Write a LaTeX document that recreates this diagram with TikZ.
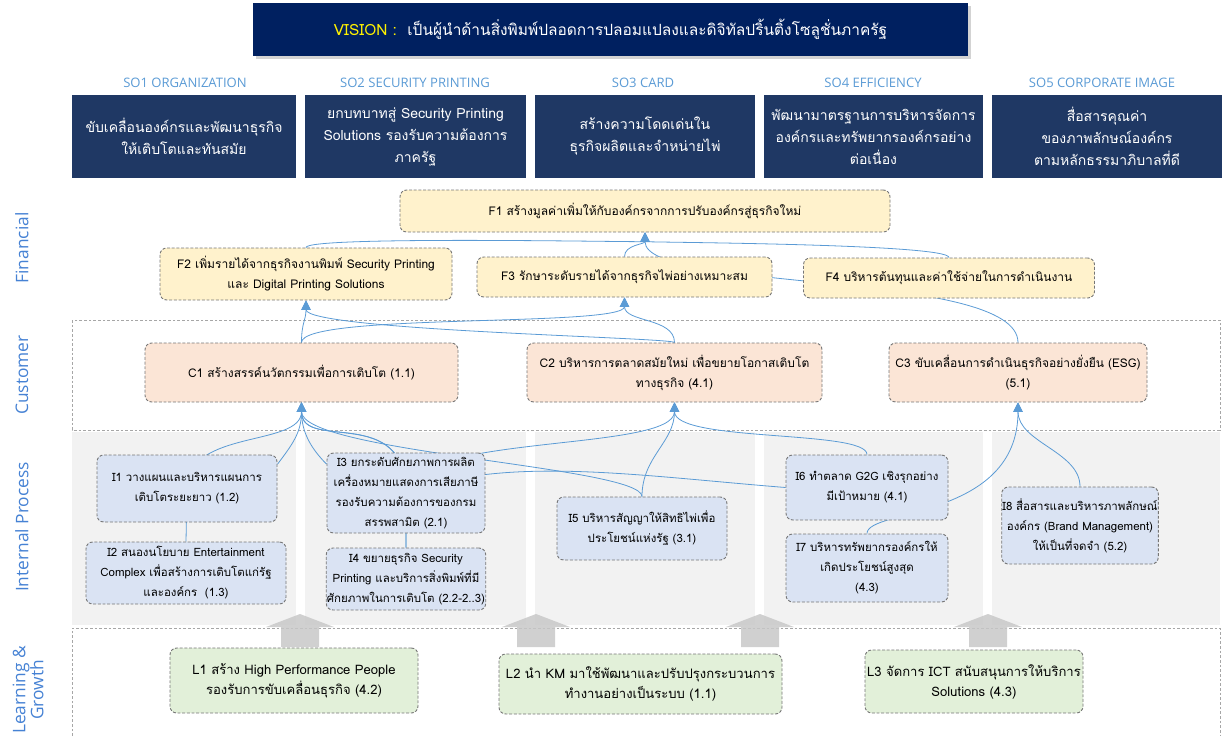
\documentclass[tikz,border=0pt]{standalone}
\usepackage{fontspec}
\setmainfont{Loma}[Script=Thai]
\newfontfamily\labelfont{Open Sans}
\usetikzlibrary{arrows.meta,shadows}
\definecolor{visionblue}{RGB}{0,32,96}
\definecolor{soblue}{RGB}{31,56,100}
\definecolor{solabel}{RGB}{91,155,213}
\definecolor{sidelabel}{RGB}{70,130,212}
\definecolor{linkblue}{RGB}{91,155,213}
\definecolor{finfill}{RGB}{255,242,204}
\definecolor{cusfill}{RGB}{251,229,214}
\definecolor{intfill}{RGB}{218,227,243}
\definecolor{lgfill}{RGB}{226,240,217}
\definecolor{boxline}{RGB}{118,118,118}
\definecolor{colgray}{RGB}{242,242,242}
\definecolor{blockgray}{RGB}{200,200,200}
\pgfdeclarelayer{back}
\pgfdeclarelayer{wires}
\pgfsetlayers{back,wires,main}

\begin{document}
\begin{tikzpicture}[x=0.75pt, y=0.75pt,
    wh/.style 2 args={minimum width=#1*0.75pt, minimum height=#2*0.75pt},
    obj/.style={draw=boxline, dash pattern=on 2.2pt off 1.3pt, line width=0.7pt,
                rounded corners=5pt, align=center, inner sep=0.5pt,
                font=\fontsize{9}{15}\selectfont},
    fin/.style={obj, fill=finfill},
    cus/.style={obj, fill=cusfill},
    int/.style={obj, fill=intfill, font=\fontsize{8.6}{15}\selectfont},
    lg/.style={obj, fill=lgfill, font=\fontsize{9.8}{15}\selectfont},
    sobox/.style={fill=soblue, text=white, align=center, inner sep=1pt,
                  font=\fontsize{10.5}{16.5}\selectfont},
    solab/.style={text=solabel, font=\labelfont\fontsize{9.8}{11}\selectfont},
    side/.style={text=sidelabel, rotate=90, align=center,
                 font=\labelfont\fontsize{13}{13.5}\selectfont},
    region/.style={draw=gray!70, dash pattern=on 2pt off 1.5pt, line width=0.6pt},
    link/.style={draw=linkblue, line width=0.6pt, -{Triangle[length=7pt,width=7pt]}}]
\useasboundingbox (0,0) rectangle (1225,-736);

% perspective backgrounds
\begin{pgfonlayer}{back}
\foreach \a/\b in {72/296, 305/526, 535/755, 764/983, 992/1220}
    \fill[colgray] (\a,-432) rectangle (\b,-625);
\draw[region] (72,-320) rectangle (1220,-430);
\draw[region] (72,-736) |- (1220,-628) -- (1220,-736);
\foreach \x in {300,536,760,988}
    \fill[blockgray, opacity=0.85] (\x,-614) -- (\x+34,-627) -- (\x+19,-627) -- (\x+19,-647)
        -- (\x-19,-647) -- (\x-19,-627) -- (\x-34,-627) -- cycle;
\end{pgfonlayer}

% vision and strategic objectives
\node[fill=visionblue, wh={715}{53}, drop shadow={shadow xshift=2pt, shadow yshift=-2pt, opacity=0.35},
      font=\fontsize{11.6}{13}\selectfont] (vision) at (610.5,-29.5)
      {\textcolor{yellow}{VISION :}\ \ \textcolor{white}{เป็นผู้นำด้านสิ่งพิมพ์ปลอดการปลอมแปลงและดิจิทัลปริ้นติ้งโซลูชั่นภาครัฐ}};

\node[solab] (so1lab) at (185,-83) {SO1 ORGANIZATION};
\node[solab] (so2lab) at (415,-83) {SO2 SECURITY PRINTING};
\node[solab] (so3lab) at (643,-83) {SO3 CARD};
\node[solab] (so4lab) at (873,-83) {SO4 EFFICIENCY};
\node[solab] (so5lab) at (1102,-83) {SO5 CORPORATE IMAGE};

\node[sobox, wh={224}{83}] (so1) at (184,-136.5) {ขับเคลื่อนองค์กรและพัฒนาธุรกิจ\\ให้เติบโตและทันสมัย};
\node[sobox, wh={221}{83}] (so2) at (415.5,-136.5) {ยกบทบาทสู่ Security Printing\\Solutions รองรับความต้องการ\\ภาครัฐ};
\node[sobox, wh={220}{83}] (so3) at (645,-136.5) {สร้างความโดดเด่นใน\\ธุรกิจผลิตและจำหน่ายไพ่};
\node[sobox, wh={219}{83}] (so4) at (873.5,-136.5) {พัฒนามาตรฐานการบริหารจัดการ\\องค์กรและทรัพยากรองค์กรอย่าง\\ต่อเนื่อง};
\node[sobox, wh={230}{83}] (so5) at (1107,-136.5) {สื่อสารคุณค่า\\ของภาพลักษณ์องค์กร\\ตามหลักธรรมาภิบาลที่ดี};

% perspective names
\node[side] (finlab) at (22,-248) {Financial};
\node[side] (cuslab) at (22,-375) {Customer};
\node[side] (intlab) at (22,-527) {Internal Process};
\node[side] (lglab) at (28,-690) {Learning \&\\Growth};

% financial
\node[fin, wh={490}{42}] (f1) at (645,-211) {F1 สร้างมูลค่าเพิ่มให้กับองค์กรจากการปรับองค์กรสู่ธุรกิจใหม่};
\node[fin, wh={292}{52}] (f2) at (306,-274) {F2 เพิ่มรายได้จากธุรกิจงานพิมพ์ Security Printing\\และ Digital Printing Solutions};
\node[fin, wh={295}{40}] (f3) at (624.5,-277) {F3 รักษาระดับรายได้จากธุรกิจไพ่อย่างเหมาะสม};
\node[fin, wh={291}{40}] (f4) at (949,-278) {F4 บริหารต้นทุนและค่าใช้จ่ายในการดำเนินงาน};

% customer
\node[cus, wh={313}{59}] (c1) at (301.5,-372.5) {C1 สร้างสรรค์นวัตกรรมเพื่อการเติบโต (1.1)};
\node[cus, wh={295}{59}] (c2) at (674.5,-372.5) {C2 บริหารการตลาดสมัยใหม่ เพื่อขยายโอกาสเติบโต\\ทางธุรกิจ (4.1)};
\node[cus, wh={258}{59}] (c3) at (1018,-372.5) {C3 ขับเคลื่อนการดำเนินธุรกิจอย่างยั่งยืน (ESG)\\(5.1)};

% internal process
\node[int, wh={180}{67}] (i1) at (187,-488.5) {I1 วางแผนและบริหารแผนการ\\เติบโตระยะยาว (1.2)};
\node[int, wh={200}{62}] (i2) at (186,-573) {I2 สนองนโยบาย Entertainment\\Complex เพื่อสร้างการเติบโตแก่รัฐ\\และองค์กร \ (1.3)};
\node[int, wh={158}{80}] (i3) at (406,-493) {I3 ยกระดับศักยภาพการผลิต\\เครื่องหมายแสดงการเสียภาษี\\รองรับความต้องการของกรม\\สรรพสามิต (2.1)};
\node[int, wh={158}{62}] (i4) at (406,-579) {I4 ขยายธุรกิจ Security\\Printing และบริการสิ่งพิมพ์ที่มี\\ศักยภาพในการเติบโต (2.2-2..3)};
\node[int, wh={170}{63}] (i5) at (642,-528.5) {I5 บริหารสัญญาให้สิทธิไพ่เพื่อ\\ประโยชน์แห่งรัฐ (3.1)};
\node[int, wh={162}{65}] (i6) at (867,-487.5) {I6 ทำตลาด G2G เชิงรุกอย่าง\\มีเป้าหมาย (4.1)};
\node[int, wh={162}{68}] (i7) at (867,-568) {I7 บริหารทรัพยากรองค์กรให้\\เกิดประโยชน์สูงสุด\\(4.3)};
\node[int, wh={140}{77}] (i8) at (1080,-525.5) {I8 สื่อสารและบริหารภาพลักษณ์\\องค์กร (Brand Management)\\ให้เป็นที่จดจำ (5.2)};

% learning and growth
\node[lg, wh={248}{65}] (l1) at (294,-680.5) {L1 สร้าง High Performance People\\รองรับการขับเคลื่อนธุรกิจ (4.2)};
\node[lg, wh={283}{60}] (l2) at (640.5,-684) {L2 นำ KM มาใช้พัฒนาและปรับปรุงกระบวนการ\\ทำงานอย่างเป็นระบบ (1.1)};
\node[lg, wh={218}{63}] (l3) at (974,-681.5) {L3 จัดการ ICT สนับสนุนการให้บริการ\\Solutions (4.3)};

% cause and effect links
\begin{pgfonlayer}{wires}
\draw[link] (f2.north) .. controls +(0,12) and +(0,-10) .. (f1.south);
\draw[link] (f3.north) .. controls +(0,12) and +(0,-12) .. (f1.south);
\draw[link] (f4.north) .. controls +(0,14) and +(0,-10) .. (f1.south);
\draw[link] (c3.north) .. controls +(0,73) and +(0,-60) .. (f1.south);
\draw[link] (c1.north) .. controls +(0,20) and +(0,-20) .. (f2.south);
\draw[link] (c1.north) .. controls +(0,30) and +(0,-30) .. (f3.south);
\draw[link] (c2.north) .. controls +(0,5) and +(0,-30) .. (f2.south);
\draw[link] (c2.north) .. controls +(0,25) and +(0,-25) .. (f3.south);

\draw[link] (i1.15) .. controls +(15,20) and +(0,-30) .. (c1.south);
\draw[link] (i2.north) -- (i1.center) .. controls +(0,60) and +(0,-45) .. (c1.south);
\draw[link] (i3.160) .. controls +(-15,15) and +(0,-30) .. (c1.south);
\draw[link] (i4.north) -- (i3.center) .. controls +(0,90) and +(0,-50) .. (c1.south);
\draw[link] (i4.north) -- (i3.center) .. controls +(0,60) and +(0,-50) .. (c2.south);
\draw[link] (i5.north) .. controls +(0,30) and +(0,-50) .. (c1.south);
\draw[link] (i5.north) .. controls +(0,40) and +(0,-40) .. (c2.south);
\draw[link] (i6.west) .. controls +(-150,12) and +(100,38) .. (i3.center)
    .. controls +(0,90) and +(0,-50) .. (c1.south);
\draw[link] (i6.north) .. controls +(0,25) and +(0,-40) .. (c2.south);
\draw[link] (i7.north) .. controls +(0,25) and +(0,-117) .. (c3.south);
\draw[link] (i8.north) .. controls +(0,35) and +(0,-40) .. (c3.south);
\end{pgfonlayer}
\end{tikzpicture}
\end{document}
